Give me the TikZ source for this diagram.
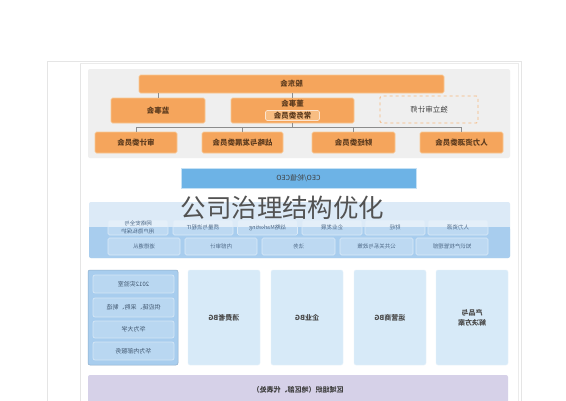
\documentclass[tikz,border=0pt]{standalone}
\usepackage{fontspec}
\setmainfont{Noto Sans CJK SC}
\newcommand\mr[1]{\scalebox{-1}[1]{#1}}
\definecolor{org}{HTML}{F5A55C}
\definecolor{orgl}{HTML}{F9C893}
\definecolor{orgtxt}{HTML}{5E3C1E}
\definecolor{pgray}{HTML}{EFEFEF}
\definecolor{ceo}{HTML}{6DB3E6}
\definecolor{bandl}{HTML}{DCEAF7}
\definecolor{bandd}{HTML}{A8CDEE}
\definecolor{bluetxt}{HTML}{4F6A88}
\definecolor{bgbox}{HTML}{D7EAF8}
\definecolor{purp}{HTML}{D6D1E8}
\definecolor{lnk}{HTML}{8C8C8C}
\tikzset{
  obox/.style={rectangle, fill=org, draw=orgl, line width=0.6pt, rounded corners=1.5pt, inner sep=0pt, text=orgtxt, font=\fontsize{7.5}{8}\selectfont\bfseries},
  sbox/.style={rectangle, fill=white, fill opacity=0.25, text opacity=1, draw=white!60!bandd, line width=0.6pt, rounded corners=1.5pt, inner sep=0pt, text=bluetxt, font=\fontsize{5.5}{6}\selectfont},
  lbox/.style={rectangle, fill=white!20!bandd, draw=white!50!bandd, line width=0.8pt, rounded corners=2pt, inner sep=0pt, text=bluetxt!80!black, font=\fontsize{6}{7}\selectfont},
  bgb/.style={rectangle, fill=bgbox, draw=white!40!bgbox, rounded corners=2pt, inner sep=0pt, minimum width=72pt, minimum height=95pt, text=black!70, font=\fontsize{7}{9}\selectfont\bfseries},
  conn/.style={draw=lnk, line width=0.5pt},
}
\begin{document}
\begin{tikzpicture}[x=1pt,y=-1pt]
\useasboundingbox (0,0) rectangle (566,400);
\fill[white] (0,0) rectangle (566,400);
% sheets
\draw[draw=black!10, fill=white] (47,61) rectangle (521,410);
\draw[draw=black!10] (80,63) -- (80,410);
\draw[draw=black!8] (80,63) -- (518,63) -- (518,410);
% top panel
\fill[pgray, rounded corners=2pt] (88,69) rectangle (510,158);
\node[obox, minimum width=305pt, minimum height=18pt] (gd) at (291.5,84) {\mr{股东会}};
\node[obox, minimum width=94pt, minimum height=25pt] (js) at (158,110.5) {\mr{监事会}};
\node[obox, minimum width=123pt, minimum height=25pt] (dsh) at (292.5,110.5) {};
\node[text=orgtxt, font=\fontsize{7.5}{8}\selectfont\bfseries, inner sep=0pt] (dshl) at (292.5,103.5) {\mr{董事会}};
\node[obox, fill=orgl!70!org, draw=white!70!org, minimum width=54pt, minimum height=10pt] (cw) at (292.5,115.5) {\mr{常务委员会}};
\node[rectangle, fill=pgray, draw=org!80!white, dashed, line width=0.8pt, rounded corners=1.5pt, minimum width=98pt, minimum height=27pt, text=black!75, font=\fontsize{7.5}{8}\selectfont] (dl) at (429,109.5) {\mr{独立审计师}};
\node[obox, minimum width=82pt, minimum height=21pt] (sj) at (136,142.5) {\mr{审计委员会}};
\node[obox, minimum width=81pt, minimum height=21pt] (zl) at (242.5,142.5) {\mr{战略与发展委员会}};
\node[obox, minimum width=83pt, minimum height=21pt] (cj) at (353.5,142.5) {\mr{财经委员会}};
\node[obox, minimum width=83pt, minimum height=21pt] (rl) at (461.5,142.5) {\mr{人力资源委员会}};
\draw[conn] (js.north) -- (js.north |- gd.south);
\draw[conn] (dsh.north) -- (dsh.north |- gd.south);
\foreach \c in {sj,zl,cj,rl} {\draw[conn] (\c.north) -- ++(0,-4.5) -| (dsh.south);}
% CEO
\node[rectangle, fill=ceo, draw=ceo!40!white, line width=0.8pt, minimum width=235pt, minimum height=20pt, text=black!75, font=\fontsize{7}{8}\selectfont] (ceo) at (298.5,178) {\mr{CEO/轮值CEO}};
% band
\fill[bandl, rounded corners=2pt] (89,202) rectangle (510,258);
\fill[bandd, rounded corners=2pt] (89,227) rectangle (510,258);
\fill[bandd] (89,227) rectangle (510,232);
\node[sbox, minimum width=60pt, minimum height=15pt] (f1) at (138,227.5) {\mr{\shortstack{网络安全与\\用户隐私保护}}};
\node[sbox, minimum width=60pt, minimum height=15pt] (f2) at (203,227.5) {\mr{质量与流程IT}};
\node[sbox, minimum width=60pt, minimum height=15pt] (f3) at (267.5,227.5) {\mr{战略Marketing}};
\node[sbox, minimum width=60pt, minimum height=15pt] (f4) at (332,227.5) {\mr{企业发展}};
\node[sbox, minimum width=60pt, minimum height=15pt] (f5) at (395,227.5) {\mr{财经}};
\node[sbox, minimum width=60pt, minimum height=15pt] (f6) at (458,227.5) {\mr{人力资源}};
\node[sbox, minimum width=72pt, minimum height=17pt] (g1) at (144,246.5) {\mr{道德遵从}};
\node[sbox, minimum width=72pt, minimum height=17pt] (g2) at (221,246.5) {\mr{内部审计}};
\node[sbox, minimum width=73pt, minimum height=17pt] (g3) at (298.5,246.5) {\mr{法务}};
\node[sbox, minimum width=73pt, minimum height=17pt] (g4) at (376.5,246.5) {\mr{公共关系与政策}};
\node[sbox, minimum width=72pt, minimum height=17pt] (g5) at (452,246.5) {\mr{知识产权管理部}};
% title
\node[text=black!68, font=\fontsize{25.5}{27}\selectfont, inner sep=0pt] (title) at (282.5,208) {公司治理结构优化};
% bottom left column
\node[rectangle, fill=bandd, draw=bandd!85!black, line width=0.5pt, rounded corners=2pt, minimum width=90pt, minimum height=95pt] (lc) at (133,317.5) {};
\node[lbox, minimum width=81pt, minimum height=18pt] (l1) at (133.5,284) {\mr{2012实验室}};
\node[lbox, minimum width=81pt, minimum height=19pt] (l2) at (133.5,307.5) {\mr{供应链、采购、制造}};
\node[lbox, minimum width=81pt, minimum height=17pt] (l3) at (133.5,329.5) {\mr{华为大学}};
\node[lbox, minimum width=81pt, minimum height=18pt] (l4) at (133.5,351) {\mr{华为内部服务}};
% BGs
\node[bgb] (b1) at (224,317.5) {\mr{消费者BG}};
\node[bgb] (b2) at (307,317.5) {\mr{企业BG}};
\node[bgb] (b3) at (390,317.5) {\mr{运营商BG}};
\node[bgb] (b4) at (472,317.5) {\mr{\shortstack{产品与\\解决方案}}};
% purple
\fill[purp, rounded corners=2pt] (88,375) rectangle (508,410);
\node[text=black!75, font=\fontsize{7}{8}\selectfont\bfseries, inner sep=0pt] (qy) at (298,390) {\mr{区域组织（地区部、代表处）}};
\end{tikzpicture}
\end{document}
